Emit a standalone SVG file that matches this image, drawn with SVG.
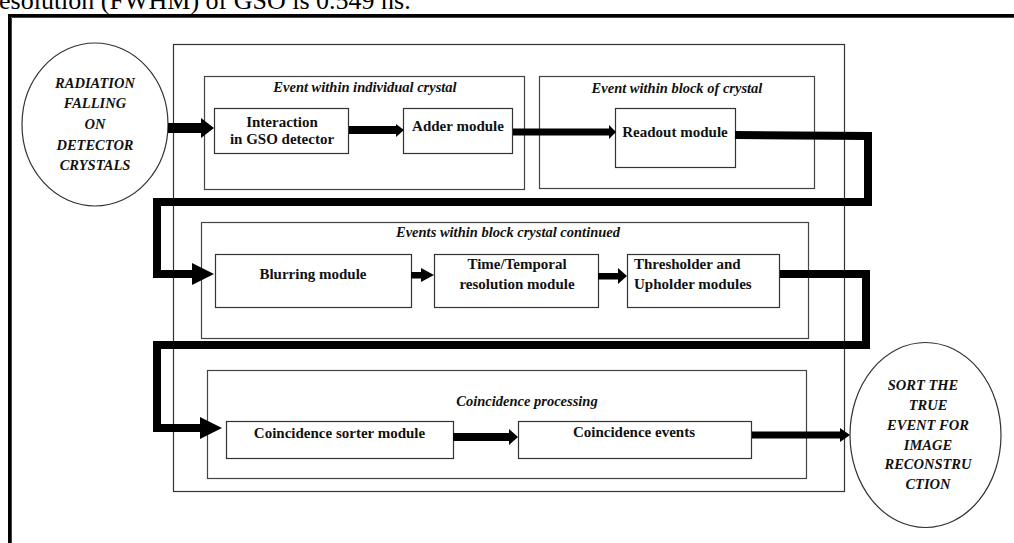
<svg xmlns="http://www.w3.org/2000/svg" width="1014" height="543" viewBox="0 0 1014 543">
<style>
.box{fill:none;stroke:#333;stroke-width:1.2}
.grp{fill:none;stroke:#444;stroke-width:1.2}
.ell{fill:#fff;stroke:#333;stroke-width:1.2}
.t{font-family:"Liberation Serif","Times New Roman",serif;font-weight:bold;font-size:15px;fill:#111}
.ti{font-family:"Liberation Serif","Times New Roman",serif;font-weight:bold;font-style:italic;font-size:14.5px;fill:#111}
.c{text-anchor:middle}
.line{fill:none;stroke:#000;stroke-width:8;stroke-linejoin:miter;stroke-linecap:butt}
.head{fill:#000}
</style>
<rect width="1014" height="543" fill="#fff"/>
<text x="-1" y="9" font-family="Liberation Serif,'Times New Roman',serif" font-size="26" fill="#000">esolution (FWHM) of GSO is 0.549 ns.</text>
<g id="page-border">
<rect x="8" y="14" width="1006" height="3" fill="#000"/>
<rect x="8" y="14" width="3" height="529" fill="#000"/>
<line x1="11.5" y1="17.5" x2="1014" y2="17.5" stroke="#d00" stroke-width="1"/>
<line x1="11.5" y1="17.5" x2="11.5" y2="543" stroke="#d00" stroke-width="1"/>
</g>
<g id="outer-frame"><rect class="box" x="173.5" y="44.5" width="671" height="447"/></g>
<g id="grp-individual"><rect class="grp" x="204.5" y="76.5" width="320" height="113"/><text class="ti c" x="365" y="92">Event within individual crystal</text></g>
<g id="grp-block"><rect class="grp" x="539.5" y="76.5" width="275" height="112"/><text class="ti c" x="677" y="93">Event within block of crystal</text></g>
<g id="grp-continued"><rect class="grp" x="201.5" y="222.5" width="607" height="116"/><text class="ti c" x="508" y="237">Events within block crystal continued</text></g>
<g id="grp-coincidence"><rect class="grp" x="207.5" y="370.5" width="599" height="108"/><text class="ti c" x="527" y="406">Coincidence processing</text></g>
<g id="n-radiation"><ellipse class="ell" cx="95" cy="124.5" rx="73" ry="81.5"/>
<text class="ti c" x="95" y="88">RADIATION</text><text class="ti c" x="95" y="108">FALLING</text><text class="ti c" x="95" y="129">ON</text><text class="ti c" x="95" y="150">DETECTOR</text><text class="ti c" x="95" y="170">CRYSTALS</text></g>
<g id="n-interaction"><rect class="box" x="214.5" y="108.5" width="134" height="45"/><text class="t c" x="282" y="127">Interaction</text><text class="t c" x="282" y="144">in GSO detector</text></g>
<g id="n-adder"><rect class="box" x="403.5" y="108.5" width="109" height="45"/><text class="t c" x="458" y="131">Adder module</text></g>
<g id="n-readout"><rect class="box" x="615.5" y="108.5" width="120" height="59"/><text class="t c" x="675" y="137">Readout module</text></g>
<g id="n-blurring"><rect class="box" x="215.5" y="254.5" width="196" height="53"/><text class="t c" x="313" y="279">Blurring module</text></g>
<g id="n-temporal"><rect class="box" x="434.5" y="254.5" width="164" height="53"/><text class="t c" x="517" y="269">Time/Temporal</text><text class="t c" x="517" y="289">resolution module</text></g>
<g id="n-thresholder"><rect class="box" x="627.5" y="254.5" width="152" height="53"/><text class="t" x="634" y="269">Thresholder and</text><text class="t" x="634" y="289">Upholder modules</text></g>
<g id="n-sorter"><rect class="box" x="226.5" y="421.5" width="227" height="37"/><text class="t c" x="339.5" y="438">Coincidence sorter module</text></g>
<g id="n-events"><rect class="box" x="518.5" y="421.5" width="233" height="37"/><text class="t c" x="634" y="437">Coincidence events</text></g>
<g id="n-sort"><ellipse class="ell" cx="925.5" cy="435" rx="75.5" ry="92.5"/>
<text class="ti c" x="923" y="390">SORT THE</text><text class="ti c" x="928" y="410">TRUE</text><text class="ti c" x="928" y="430">EVENT FOR</text><text class="ti c" x="928" y="450">IMAGE</text><text class="ti c" x="928" y="469">RECONSTRU</text><text class="ti c" x="928" y="489">CTION</text></g>
<g id="connectors">
<rect x="168" y="123" width="35" height="10" fill="#000"/><polygon class="head" points="201,118 214,128 201,138"/>
<rect x="349" y="126" width="49" height="8" fill="#000"/><polygon class="head" points="396,124 404,130 396,137"/>
<rect x="513" y="128.5" width="97" height="7" fill="#000"/><polygon class="head" points="609,125 616,132 609,139"/>
<path class="line" d="M735,135 L868,136 L868,202 L157,202 L157,274 L194,274"/><polygon class="head" points="192,263 214,274 192,285"/>
<rect x="411" y="272" width="12" height="6.5" fill="#000"/><polygon class="head" points="421,268 434,275 421,282"/>
<rect x="598" y="273" width="21" height="6.5" fill="#000"/><polygon class="head" points="618,268 627,276 618,284"/>
<path class="line" d="M780,274 L866,274 L866,345 L157,345 L157,428 L202,428"/><polygon class="head" points="200,417 222,428 200,439"/>
<rect x="453" y="433" width="58" height="8" fill="#000"/><polygon class="head" points="509,429 518,437 509,445"/>
<rect x="752" y="431.5" width="90" height="7" fill="#000"/><polygon class="head" points="840,428 850,435 840,442"/>
</g>
</svg>
